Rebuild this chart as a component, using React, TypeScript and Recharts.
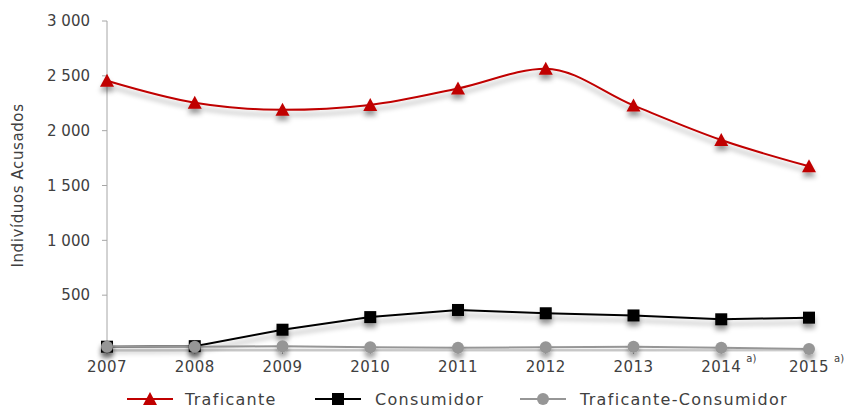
import React from "react";
import { LineChart, Line, XAxis, YAxis, Legend } from "recharts";

const years = ["2007", "2008", "2009", "2010", "2011", "2012", "2013", "2014", "2015"];
const noteYears = ["2014", "2015"];
const traficante = [2455, 2255, 2190, 2235, 2385, 2565, 2230, 1915, 1675];
const consumidor = [30, 35, 185, 300, 365, 335, 315, 280, 295];
const traficanteConsumidor = [30, 30, 35, 25, 20, 25, 30, 20, 10];
const yTicks = [500, 1000, 1500, 2000, 2500, 3000];

const seriesNames = ["Traficante", "Consumidor", "Traficante-Consumidor"];
const colors = ["#C00000", "#000000", "#969696"];

const data = years.map((y, i) => ({
  year: y,
  a: traficante[i],
  b: consumidor[i],
  c: traficanteConsumidor[i],
}));

const FONT = "'DejaVu Sans', sans-serif";
const TEXT = "#404040";

const fmt = (v: number) => {
  const s = String(v);
  return s.length > 3 ? s.slice(0, s.length - 3) + " " + s.slice(-3) : s;
};

const Triangle = (props: any) => {
  const { cx, cy } = props;
  if (cx == null || cy == null) return null;
  return (
    <path
      d={`M${cx},${cy - 7} L${cx + 7},${cy + 6} L${cx - 7},${cy + 6} Z`}
      fill={colors[0]}
      filter="url(#shadow)"
    />
  );
};
const Square = (props: any) => {
  const { cx, cy } = props;
  if (cx == null || cy == null) return null;
  return <rect x={cx - 6} y={cy - 6} width={12} height={12} fill={colors[1]} filter="url(#shadow)" />;
};
const Circle = (props: any) => {
  const { cx, cy } = props;
  if (cx == null || cy == null) return null;
  return <circle cx={cx} cy={cy} r={6} fill={colors[2]} filter="url(#shadow)" />;
};

const XTick = (props: any) => {
  const { x, y, payload } = props;
  const v = payload.value;
  return (
    <g>
      <text x={x} y={y + 16} textAnchor="middle" fontFamily={FONT} fontSize={15} fill={TEXT} letterSpacing={0.5}>
        {v}
      </text>
      {noteYears.includes(v) && (
        <text x={x + 25} y={y + 6} textAnchor="start" fontFamily={FONT} fontSize={10} fill={TEXT}>
          a)
        </text>
      )}
    </g>
  );
};

const LegendContent = () => {
  const items = [
    { x: 127, tx: 185, marker: "tri" },
    { x: 315, tx: 375, marker: "sq" },
    { x: 520, tx: 580, marker: "ci" },
  ];
  return (
    <svg width={845} height={30} style={{ display: "block" }}>
      {items.map((it, i) => {
        const cx = it.x + 23;
        const cy = 15;
        return (
          <g key={i}>
            <line x1={it.x} x2={it.x + 46} y1={cy} y2={cy} stroke={colors[i]} strokeWidth={2} />
            {it.marker === "tri" && (
              <path d={`M${cx},${cy - 7} L${cx + 7},${cy + 6} L${cx - 7},${cy + 6} Z`} fill={colors[i]} />
            )}
            {it.marker === "sq" && <rect x={cx - 6} y={cy - 6} width={12} height={12} fill={colors[i]} />}
            {it.marker === "ci" && <circle cx={cx} cy={cy} r={6} fill={colors[i]} />}
            <text x={it.tx} y={cy + 6} fontFamily={FONT} fontSize={16} fill={TEXT} letterSpacing={1.3}>
              {seriesNames[i]}
            </text>
          </g>
        );
      })}
    </svg>
  );
};

export default function App() {
  return (
    <div style={{ position: "absolute", left: 0, top: 0, width: 845, height: 414, background: "#fff" }}>
      <svg width={0} height={0} style={{ position: "absolute" }}>
        <defs>
          <filter id="shadow" x="-50%" y="-50%" width="200%" height="250%">
            <feDropShadow dx={0} dy={5} stdDeviation={2.5} floodColor="#000" floodOpacity={0.35} />
          </filter>
        </defs>
      </svg>
      <LineChart
        width={845}
        height={414}
        data={data}
        margin={{ top: 21, right: 36, left: 0, bottom: 0 }}
      >
        <XAxis
          dataKey="year"
          height={34}
          stroke="#A6A6A6"
          tickLine={{ stroke: "#A6A6A6" }}
          tickSize={4}
          tick={<XTick />}
          interval={0}
        />
        <YAxis
          width={107}
          domain={[0, 3000]}
          ticks={yTicks}
          tickFormatter={fmt}
          stroke="#A6A6A6"
          tickSize={5}
          tickMargin={12}
          tick={{ fontFamily: FONT, fontSize: 15, fill: TEXT }}
          label={{
            value: "Indivíduos Acusados",
            angle: -90,
            position: "insideLeft",
            offset: 18,
            style: { fontFamily: FONT, fontSize: 15, fill: TEXT, textAnchor: "middle", letterSpacing: 0.6 },
          }}
        />
        <Legend verticalAlign="bottom" height={30} content={<LegendContent />} />
        <Line
          type="monotone"
          dataKey="a"
          name={seriesNames[0]}
          stroke={colors[0]}
          strokeWidth={2}
          dot={<Triangle />}
          activeDot={false}
          filter="url(#shadow)"
          isAnimationActive={false}
        />
        <Line
          type="linear"
          dataKey="b"
          name={seriesNames[1]}
          stroke={colors[1]}
          strokeWidth={2}
          dot={<Square />}
          activeDot={false}
          filter="url(#shadow)"
          isAnimationActive={false}
        />
        <Line
          type="linear"
          dataKey="c"
          name={seriesNames[2]}
          stroke={colors[2]}
          strokeWidth={2}
          dot={<Circle />}
          activeDot={false}
          filter="url(#shadow)"
          isAnimationActive={false}
        />
      </LineChart>
    </div>
  );
}
